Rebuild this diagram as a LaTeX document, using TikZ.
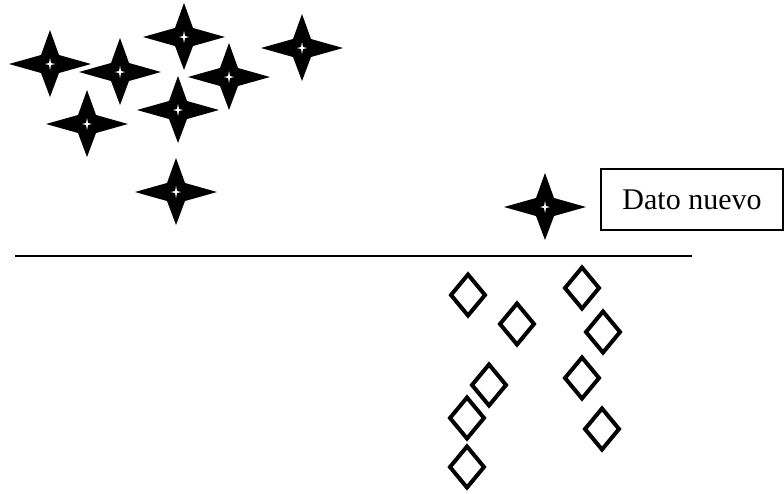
\documentclass[tikz,border=0pt]{standalone}
\usepackage{fontspec}
\setmainfont{Liberation Serif}
\tikzset{
  sparkle/.pic={
    \fill[black] (41,0) -- (9,-9) -- (0,-34) -- (-9,-9) -- (-41,0) -- (-9,9) -- (0,33) -- (9,9) -- cycle;
    \fill[white] (5,0) -- (1,-1) -- (0,-6) -- (-1,-1) -- (-5,0) -- (-1,1) -- (0,6) -- (1,1) -- cycle;
  },
  gem/.pic={
    \draw[line width=4pt, miter limit=10] (17,0) -- (0,-20.5) -- (-17,0) -- (0,20.5) -- cycle;
  },
  labelbox/.style={draw, line width=1.3pt, minimum width=182pt, minimum height=61pt, inner sep=0pt, font=\fontsize{30}{36}\selectfont}
}
\begin{document}
\begin{tikzpicture}[x=1pt,y=-1pt]
\useasboundingbox (0,0) rectangle (784,493);
% stars (old data)
\pic (s1) at (50,64) {sparkle};
\pic (s2) at (120,72) {sparkle};
\pic (s3) at (184,37) {sparkle};
\pic (s4) at (302,48) {sparkle};
\pic (s5) at (229,77) {sparkle};
\pic (s6) at (178,110) {sparkle};
\pic (s7) at (87,124) {sparkle};
\pic (s8) at (176,192) {sparkle};
% new datum
\pic (snew) at (545,207) {sparkle};
\node[labelbox] (box) at (692,199.5) {Dato nuevo};
% separating line
\coordinate (l1) at (15,256);
\coordinate (l2) at (692,256);
\draw[line width=1.3pt] (l1) -- (l2);
% diamonds
\pic (d1) at (468,295) {gem};
\pic (d2) at (517,324) {gem};
\pic (d3) at (582,288) {gem};
\pic (d4) at (603,332) {gem};
\pic (d5) at (489,385) {gem};
\pic (d6) at (582,378) {gem};
\pic (d7) at (467,418) {gem};
\pic (d8) at (602,429) {gem};
\pic (d9) at (467,467) {gem};
\end{tikzpicture}
\end{document}
